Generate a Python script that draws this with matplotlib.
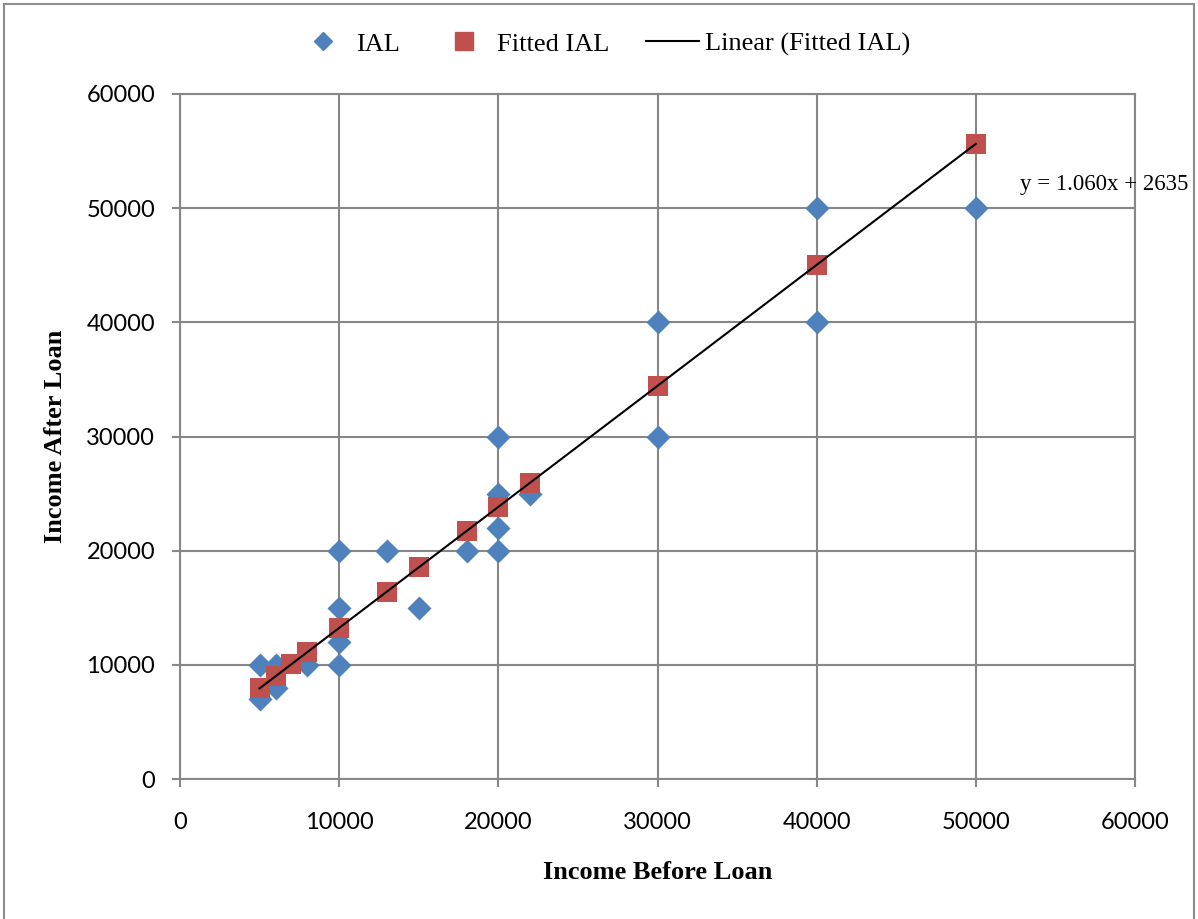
import matplotlib.pyplot as plt
from matplotlib.lines import Line2D
from matplotlib.patches import Rectangle

# income before loan / after loan (observed)
ibl = [5000, 5000, 6000, 6000, 8000, 10000, 10000, 10000, 10000, 13000, 15000,
       18000, 20000, 20000, 20000, 20000, 22000, 30000, 30000, 40000, 40000, 50000]
ial = [10000, 7000, 10000, 8000, 10000, 20000, 15000, 12000, 10000, 20000, 15000,
       20000, 30000, 25000, 22000, 20000, 25000, 40000, 30000, 50000, 40000, 50000]

# fitted values
fit_x = [5000, 6000, 7000, 8000, 10000, 13000, 15000, 18000, 20000, 22000, 30000, 40000, 50000]
fit_y = [7935, 8995, 10055, 11115, 13235, 16415, 18535, 21715, 23835, 25955, 34435, 45035, 55635]

slope, intercept = 1.060, 2635

blue = '#4F81BD'
red = '#C0504D'
grid_c = '#878787'

fig = plt.figure(figsize=(11.98, 9.19), dpi=100)
ax = fig.add_axes([180/1198, 1 - 779/919, 955/1198, 685/919])

ax.scatter(ibl, ial, marker='D', s=150, color=blue, zorder=3, linewidths=0)
ax.scatter(fit_x, fit_y, marker='s', s=200, color=red, zorder=4, linewidths=0)
lx = [min(fit_x), max(fit_x)]
ly = [slope * v + intercept for v in lx]
ax.plot(lx, ly, color='black', lw=1.5, zorder=5)

ax.set_xlim(0, 60000)
ax.set_ylim(0, 60000)
ax.set_xticks(range(0, 60001, 10000))
ax.set_yticks(range(0, 60001, 10000))
ax.grid(True, color=grid_c, lw=1.5)
ax.set_axisbelow(True)
for sp in ax.spines.values():
    sp.set_color(grid_c)
    sp.set_linewidth(1.5)
ax.tick_params(direction='out', length=6, width=1.5, color=grid_c, labelsize=17)
ax.tick_params(axis='x', pad=18)
ax.tick_params(axis='y', pad=12)
for lab in ax.get_xticklabels() + ax.get_yticklabels():
    lab.set_family('Lato')

ax.set_xlabel('Income Before Loan', family='Liberation Serif', weight='bold',
              fontsize=19, labelpad=20)
ax.set_ylabel('Income After Loan', family='Liberation Serif', weight='bold',
              fontsize=19, labelpad=14)

ax.text(52800, 52100, 'y = 1.060x + 2635', family='Liberation Serif',
        fontsize=16.5, va='center', ha='left', clip_on=False)

handles = [
    Line2D([], [], marker='D', color=blue, ls='none', markersize=9),
    Line2D([], [], marker='s', color=red, ls='none', markersize=13),
    Line2D([], [], color='black', lw=1.5),
]
fig.legend(handles, ['IAL', 'Fitted IAL', 'Linear (Fitted IAL)'],
           loc='center', bbox_to_anchor=(0.504, 1 - 44/919), ncol=3,
           frameon=False, prop={'family': 'Liberation Serif', 'size': 19},
           handlelength=2.0, columnspacing=1.4, handletextpad=0.25)

fig.patches.append(Rectangle((4/1198, -0.01), 1190/1198, 1 - 4/919 + 0.01,
                             transform=fig.transFigure, fill=False,
                             edgecolor='#8c8c8c', lw=1.5))

fig.savefig('out.png', dpi=100)
